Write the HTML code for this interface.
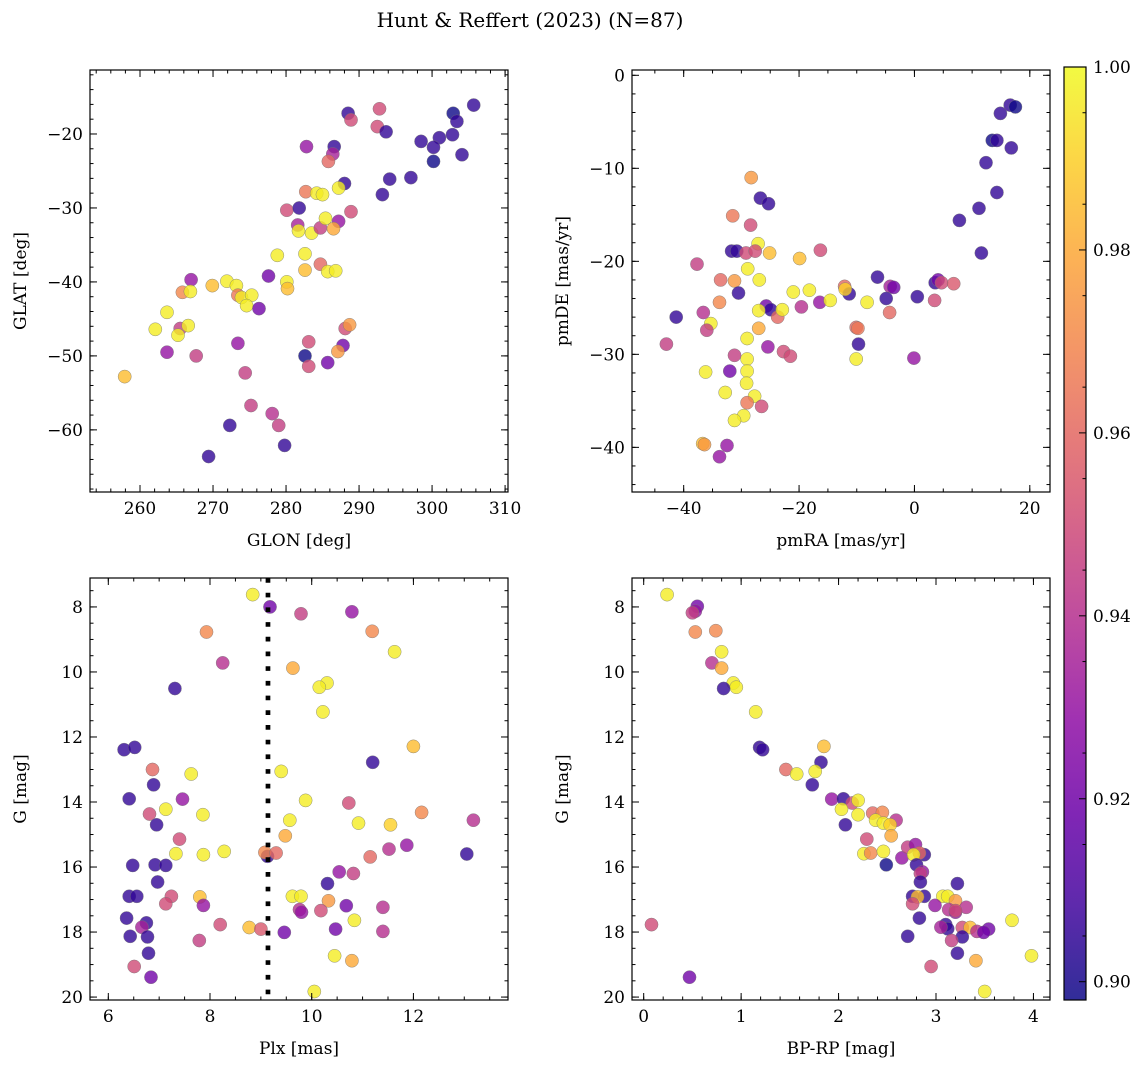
<!DOCTYPE html>
<html><head><meta charset="utf-8">
<style>
html,body{margin:0;padding:0;background:#fff;}
svg{display:block;font-family:"DejaVu Serif","Liberation Serif",serif;}
</style></head>
<body>
<svg id="fig" width="1148" height="1067" viewBox="0 0 1148 1067" xmlns="http://www.w3.org/2000/svg">
<text x="530" y="27" font-size="20" text-anchor="middle">Hunt &amp; Reffert (2023) (N=87)</text>
</svg>
<script>
// ---- Panel 1: GLON / GLAT ----
const glon=[305.7,302.9,303.4,302.8,301.0,298.5,300.2,300.2,304.1,294.2,297.1,293.2,292.8,292.5,293.7,288.5,288.9,282.8,286.6,286.4,285.8,288.0,287.2,282.7,284.2,285.0,280.1,281.8,288.9,281.6,281.7,283.5,284.7,287.2,285.4,286.5,278.8,282.6,282.6,284.7,285.7,286.8,277.6,280.1,280.2,267.0,265.8,266.9,269.9,271.9,273.2,273.4,273.9,275.3,274.6,276.3,263.7,262.1,265.5,265.2,266.6,263.7,267.7,257.9,273.4,274.4,283.1,282.6,283.1,285.7,287.8,288.1,288.7,287.1,275.2,272.3,278.1,279.0,279.8,269.4];
const glat=[-16.1,-17.2,-18.3,-20.1,-20.5,-21.0,-21.8,-23.7,-22.8,-26.1,-25.9,-28.2,-16.6,-19.0,-19.7,-17.2,-18.1,-21.7,-21.7,-22.7,-23.7,-26.7,-27.3,-27.8,-28.0,-28.2,-30.3,-30.0,-30.5,-32.3,-33.1,-33.4,-32.7,-31.8,-31.4,-32.8,-36.4,-36.2,-38.4,-37.6,-38.6,-38.5,-39.2,-40.0,-40.9,-39.7,-41.4,-41.3,-40.5,-39.9,-40.5,-41.8,-42.1,-41.8,-43.2,-43.6,-44.1,-46.4,-46.3,-47.2,-45.9,-49.5,-50.0,-52.8,-48.3,-52.3,-48.1,-50.0,-51.4,-50.9,-48.6,-46.3,-45.8,-49.4,-56.7,-59.4,-57.8,-59.4,-62.1,-63.6];
const prob1=[0.905,0.898,0.905,0.905,0.905,0.905,0.905,0.898,0.905,0.905,0.905,0.905,0.95,0.95,0.905,0.905,0.95,0.93,0.905,0.935,0.96,0.905,0.997,0.965,0.997,0.997,0.95,0.905,0.95,0.935,0.997,0.997,0.945,0.93,0.997,0.98,0.997,0.997,0.985,0.96,0.997,0.997,0.92,0.997,0.985,0.93,0.97,0.997,0.985,0.997,0.997,0.965,0.997,0.997,0.997,0.92,0.997,0.997,0.945,0.997,0.997,0.93,0.945,0.985,0.93,0.945,0.95,0.898,0.95,0.92,0.92,0.95,0.975,0.975,0.945,0.905,0.94,0.945,0.905,0.905];
// ---- Panel 2: pmRA / pmDE ----
const pmra=[16.6,17.5,14.9,13.5,14.3,16.8,12.4,14.3,11.2,7.8,11.6,-28.3,-26.7,-25.3,-31.5,-28.4,-27.1,-25.1,-31.7,-30.8,-29.2,-27.6,-19.9,-16.3,-37.7,-28.9,-26.9,-33.6,-31.2,-30.5,-21.0,-18.2,-12.1,-11.3,-12.0,-6.4,-4.2,-3.6,-4.9,0.5,3.6,4.1,4.7,6.8,3.5,-33.8,-36.6,-25.7,-24.9,-27.0,-23.7,-22.9,-19.6,-16.4,-14.6,-8.2,-4.3,-41.3,-35.3,-36.0,-27.0,-29.0,-25.4,-22.7,-21.5,-10.1,-9.8,-9.7,-10.1,-0.1,-43.0,-31.2,-29.0,-36.2,-32.0,-29.0,-29.1,-32.8,-27.7,-29.0,-26.5,-29.6,-31.2,-36.7,-36.4,-32.5,-33.8];
const pmde=[-3.2,-3.4,-4.1,-7.0,-7.0,-7.8,-9.4,-12.6,-14.3,-15.6,-19.1,-11.0,-13.2,-13.8,-15.1,-16.1,-18.1,-19.1,-18.9,-18.9,-19.1,-18.9,-19.7,-18.8,-20.3,-20.8,-22.0,-22.0,-22.1,-23.4,-23.3,-23.1,-22.7,-23.5,-23.0,-21.7,-22.7,-22.8,-24.0,-23.8,-22.3,-22.0,-22.3,-22.4,-24.2,-24.4,-25.5,-24.8,-25.2,-25.3,-26.0,-25.2,-24.9,-24.4,-24.2,-24.4,-25.5,-26.0,-26.7,-27.4,-27.2,-28.3,-29.2,-29.7,-30.2,-27.1,-27.2,-28.9,-30.5,-30.4,-28.9,-30.1,-30.5,-31.9,-31.8,-31.8,-33.1,-34.1,-34.5,-35.2,-35.6,-36.6,-37.1,-39.6,-39.7,-39.8,-41.0];
const prob2=[0.905,0.898,0.905,0.898,0.905,0.905,0.905,0.905,0.905,0.905,0.905,0.975,0.905,0.905,0.965,0.95,0.997,0.985,0.905,0.905,0.95,0.95,0.985,0.95,0.945,0.997,0.997,0.96,0.975,0.905,0.997,0.997,0.96,0.905,0.99,0.905,0.935,0.92,0.905,0.905,0.905,0.92,0.95,0.955,0.95,0.97,0.94,0.92,0.905,0.997,0.96,0.997,0.94,0.93,0.997,0.997,0.96,0.905,0.997,0.945,0.98,0.997,0.93,0.95,0.95,0.96,0.965,0.905,0.997,0.93,0.945,0.945,0.997,0.997,0.92,0.997,0.997,0.997,0.997,0.965,0.95,0.997,0.997,0.985,0.975,0.93,0.93];
// ---- Panel 3: Plx / G ----
const plx=[8.84,9.18,9.79,10.79,7.93,11.19,11.63,8.25,9.63,10.30,10.15,7.31,10.22,6.31,6.52,12.0,11.2,6.87,7.63,9.40,6.89,6.41,7.46,9.88,10.73,7.13,6.81,7.86,12.16,13.18,6.95,9.57,10.92,11.55,7.40,9.48,7.33,7.87,8.28,9.13,9.08,9.30,11.15,11.52,11.87,13.05,6.48,6.92,7.13,10.54,10.82,6.97,10.31,6.41,6.56,7.24,7.13,7.80,7.87,9.62,9.79,10.33,9.76,9.80,10.18,10.68,11.40,10.84,6.36,6.75,6.66,8.20,8.77,9.00,9.46,10.47,11.40,6.43,6.77,7.79,6.79,10.45,10.79,6.51,6.84,10.05];
const gmag3=[7.62,8.0,8.21,8.15,8.77,8.75,9.38,9.72,9.88,10.34,10.47,10.51,11.23,12.39,12.32,12.29,12.78,13.0,13.14,13.06,13.47,13.9,13.91,13.95,14.03,14.22,14.37,14.39,14.32,14.56,14.7,14.56,14.65,14.7,15.14,15.04,15.59,15.62,15.52,15.67,15.55,15.57,15.69,15.45,15.33,15.6,15.95,15.93,15.95,16.15,16.2,16.46,16.51,16.9,16.9,16.9,17.13,16.92,17.18,16.9,16.9,17.04,17.31,17.39,17.34,17.19,17.24,17.64,17.57,17.72,17.85,17.77,17.86,17.91,18.01,17.91,17.98,18.13,18.15,18.26,18.65,18.73,18.88,19.06,19.39,19.83];
const prob3=[0.997,0.92,0.945,0.93,0.97,0.97,0.997,0.94,0.98,0.997,0.997,0.905,0.997,0.905,0.905,0.985,0.905,0.96,0.997,0.997,0.905,0.905,0.93,0.997,0.95,0.997,0.95,0.997,0.97,0.94,0.905,0.997,0.997,0.99,0.95,0.98,0.997,0.997,0.997,0.905,0.97,0.96,0.96,0.94,0.93,0.905,0.905,0.905,0.905,0.93,0.945,0.905,0.905,0.905,0.905,0.95,0.95,0.985,0.93,0.997,0.997,0.975,0.94,0.93,0.95,0.92,0.94,0.997,0.905,0.905,0.935,0.95,0.985,0.955,0.92,0.92,0.94,0.905,0.905,0.945,0.905,0.997,0.98,0.95,0.92,0.997];
const plxLine=[9.14];
// ---- Panel 4: BP-RP / G ----
const bprp=[0.24,0.55,0.53,0.50,0.53,0.74,0.80,0.70,0.80,0.92,0.95,0.82,1.15,1.19,1.22,1.85,1.82,1.46,1.57,1.76,1.73,1.93,2.05,2.14,2.20,2.03,2.20,2.35,2.45,2.59,2.38,2.46,2.53,2.07,2.54,2.29,2.26,2.33,2.46,2.49,2.65,2.71,2.79,2.88,2.83,2.77,2.80,2.86,2.84,2.84,3.22,2.76,2.88,2.81,2.76,3.07,3.12,3.20,2.99,3.13,3.20,3.31,3.20,3.78,2.83,3.10,3.12,3.05,3.27,3.35,3.42,3.54,3.49,3.27,2.71,3.16,3.22,3.98,3.41,2.95,0.08,0.47,3.50];
const gmag4=[7.62,7.98,8.13,8.18,8.77,8.73,9.38,9.72,9.88,10.34,10.47,10.51,11.23,12.32,12.39,12.29,12.78,13.0,13.14,13.06,13.47,13.91,13.9,14.03,13.95,14.22,14.39,14.34,14.32,14.56,14.56,14.65,14.7,14.7,15.04,15.14,15.59,15.57,15.52,15.93,15.72,15.39,15.31,15.62,15.57,15.62,15.93,16.15,16.2,16.46,16.51,16.9,16.9,16.92,17.13,16.9,16.9,17.04,17.18,17.31,17.39,17.24,17.34,17.64,17.57,17.77,17.9,17.85,17.86,17.86,17.98,17.91,18.01,18.15,18.13,18.26,18.65,18.73,18.88,19.06,17.77,19.39,19.83];
const prob4=[0.997,0.92,0.93,0.945,0.97,0.97,0.997,0.94,0.98,0.997,0.997,0.905,0.997,0.905,0.905,0.985,0.905,0.96,0.997,0.997,0.905,0.93,0.905,0.95,0.997,0.997,0.997,0.96,0.97,0.94,0.997,0.997,0.99,0.905,0.98,0.95,0.997,0.97,0.997,0.898,0.93,0.945,0.93,0.905,0.96,0.997,0.905,0.93,0.945,0.905,0.905,0.905,0.905,0.985,0.95,0.997,0.997,0.975,0.93,0.94,0.93,0.94,0.95,0.997,0.905,0.905,0.905,0.935,0.95,0.985,0.94,0.92,0.92,0.905,0.905,0.945,0.905,0.997,0.98,0.95,0.95,0.92,0.997];
// ---- Colorbar ticks ----
const cbTicks=[0.90,0.92,0.94,0.96,0.98,1.00];
const cbMin=0.898, cbMax=1.0;

const NS="http://www.w3.org/2000/svg";
const svg=document.getElementById('fig');
function el(tag,attrs,parent){const e=document.createElementNS(NS,tag);for(const k in attrs)e.setAttribute(k,attrs[k]);(parent||svg).appendChild(e);return e;}
const stops=[[13,8,135],[65,4,157],[106,0,168],[143,13,164],[177,42,144],[204,71,120],[225,100,98],[242,132,75],[252,166,54],[252,206,37],[240,249,33]];
function plasma(t){t=Math.max(0,Math.min(1,t));const f=t*10,i=Math.min(9,Math.floor(f)),u=f-i;const a=stops[i],b=stops[i+1];return 'rgb('+[0,1,2].map(k=>Math.round(a[k]+(b[k]-a[k])*u)).join(',')+')';}
function pcol(v){return plasma((v-cbMin)/(cbMax-cbMin));}

function panel(cfg){
  const {x0,y0,x1,y1,xlim,ylim,xMaj,xMin,yMaj,yMin,xlabel,ylabel,name}=cfg;
  const sx=v=>x0+(v-xlim[0])/(xlim[1]-xlim[0])*(x1-x0);
  const sy=v=>y0+(v-ylim[0])/(ylim[1]-ylim[0])*(y1-y0);
  const g=el('g',{});
  
  
  const clip=el('clipPath',{id:'clip-'+name},g);el('rect',{x:x0,y:y0,width:x1-x0,height:y1-y0},clip);
  const pts=el('g',{'clip-path':'url(#clip-'+name+')'},g);
  
  
  for(let i=0;i<cfg.xs.length;i++){
    const c=el('circle',{cx:sx(cfg.xs[i]).toFixed(1),cy:sy(cfg.ys[i]).toFixed(1),r:6.6,fill:pcol(cfg.cs[i]),'fill-opacity':0.8,stroke:'#777','stroke-width':0.5,'stroke-opacity':0.8},pts);
    
    
  }
  if(cfg.vline){cfg.vline.forEach(v=>{const l=el('line',{x1:sx(v),x2:sx(v),y1:y0,y2:y1,stroke:'#000','stroke-width':4.7,'stroke-dasharray':'4.7 10'},pts);
    
    });}
  el('rect',{x:x0,y:y0,width:x1-x0,height:y1-y0,fill:'none',stroke:'#000','stroke-width':1.2},g);
  const tk=el('g',{stroke:'#000','stroke-width':1},g);
  const inX=v=>{const p=sx(v);return p>=x0-0.5&&p<=x1+0.5;}, inY=v=>{const p=sy(v);return p>=Math.min(y0,y1)-0.5&&p<=Math.max(y0,y1)+0.5;};
  const rng=(a,b,s)=>{const r=[];for(let v=Math.ceil(a/s-1e-9)*s;v<=b+1e-9;v+=s)r.push(+v.toFixed(6));return r;};
  const xl=Math.min(...xlim),xh=Math.max(...xlim),yl=Math.min(...ylim),yh=Math.max(...ylim);
  rng(xl,xh,xMin).forEach(v=>{if(!inX(v))return;const p=sx(v);el('line',{x1:p,x2:p,y1:y1,y2:y1-3.5},tk);el('line',{x1:p,x2:p,y1:y0,y2:y0+3.5},tk);});
  rng(yl,yh,yMin).forEach(v=>{if(!inY(v))return;const p=sy(v);el('line',{x1:x0,x2:x0+3.5,y1:p,y2:p},tk);el('line',{x1:x1,x2:x1-3.5,y1:p,y2:p},tk);});
  rng(xl,xh,xMaj).forEach(v=>{if(!inX(v))return;const p=sx(v);el('line',{x1:p,x2:p,y1:y1,y2:y1-7},tk);el('line',{x1:p,x2:p,y1:y0,y2:y0+7},tk);
    const t=el('text',{x:p,y:y1+22,'font-size':17,'text-anchor':'middle'},g);t.textContent=(v<0?'\u2212':'')+Math.abs(v);
    });
  rng(yl,yh,yMaj).forEach(v=>{if(!inY(v))return;const p=sy(v);el('line',{x1:x0,x2:x0+7,y1:p,y2:p},tk);el('line',{x1:x1,x2:x1-7,y1:p,y2:p},tk);
    const t=el('text',{x:x0-7,y:p+6,'font-size':17,'text-anchor':'end'},g);t.textContent=(v<0?'\u2212':'')+Math.abs(v);
    });
  const xt=el('text',{x:(x0+x1)/2,y:y1+54,'font-size':17,'text-anchor':'middle'},g);xt.textContent=xlabel;
  
  const yx=x0-64,yy=(y0+y1)/2;
  const yt=el('text',{x:yx,y:yy,'font-size':17,'text-anchor':'middle',transform:'rotate(-90 '+yx+' '+yy+')'},g);yt.textContent=ylabel;
  
}
panel({name:'glon-glat-panel',x0:90,y0:70,x1:508,y1:492,xlim:[253.15,310.4],ylim:[-11.35,-68.4],xMaj:10,xMin:2,yMaj:10,yMin:2,xlabel:'GLON [deg]',ylabel:'GLAT [deg]',xs:glon,ys:glat,cs:prob1});
panel({name:'proper-motion-panel',x0:632,y0:70,x1:1050,y1:492,xlim:[-48.96,23.5],ylim:[0.57,-44.8],xMaj:20,xMin:5,yMaj:10,yMin:2,xlabel:'pmRA [mas/yr]',ylabel:'pmDE [mas/yr]',xs:pmra,ys:pmde,cs:prob2});
panel({name:'parallax-panel',x0:90,y0:578,x1:508,y1:1000,xlim:[5.64,13.86],ylim:[7.11,20.09],xMaj:2,xMin:0.5,yMaj:2,yMin:0.5,xlabel:'Plx [mas]',ylabel:'G [mag]',xs:plx,ys:gmag3,cs:prob3,vline:plxLine});
panel({name:'cmd-panel',x0:632,y0:578,x1:1050,y1:1000,xlim:[-0.12,4.17],ylim:[7.11,20.09],xMaj:1,xMin:0.2,yMaj:2,yMin:0.5,xlabel:'BP-RP [mag]',ylabel:'G [mag]',xs:bprp,ys:gmag4,cs:prob4});

// colorbar
(function(){
  const cx0=1064,cx1=1086,cy0=67,cy1=1000;
  const g=el('g',{});
  
  
  const defs=el('defs',{},g);
  const lg=el('linearGradient',{id:'cbgrad',x1:0,y1:1,x2:0,y2:0},defs);
  for(let i=0;i<=20;i++){el('stop',{offset:i/20,'stop-color':plasma(i/20),'stop-opacity':0.85},lg);}
  el('rect',{x:cx0,y:cy0,width:cx1-cx0,height:cy1-cy0,fill:'url(#cbgrad)',stroke:'#000','stroke-width':1.2},g);
  const sy=v=>cy1-(v-cbMin)/(cbMax-cbMin)*(cy1-cy0);
  cbTicks.forEach(v=>{const p=sy(v);el('line',{x1:cx1,x2:cx1-7,y1:p,y2:p,stroke:'#000'},g);
    const t=el('text',{x:cx1+7,y:p+6,'font-size':17},g);t.textContent=v.toFixed(2);
    });
  for(let v=0.90;v<1.0;v+=0.01){const p=sy(v+0.005);el('line',{x1:cx1,x2:cx1-3.5,y1:p,y2:p,stroke:'#000'},g);}
})();
</script>
</body></html>
